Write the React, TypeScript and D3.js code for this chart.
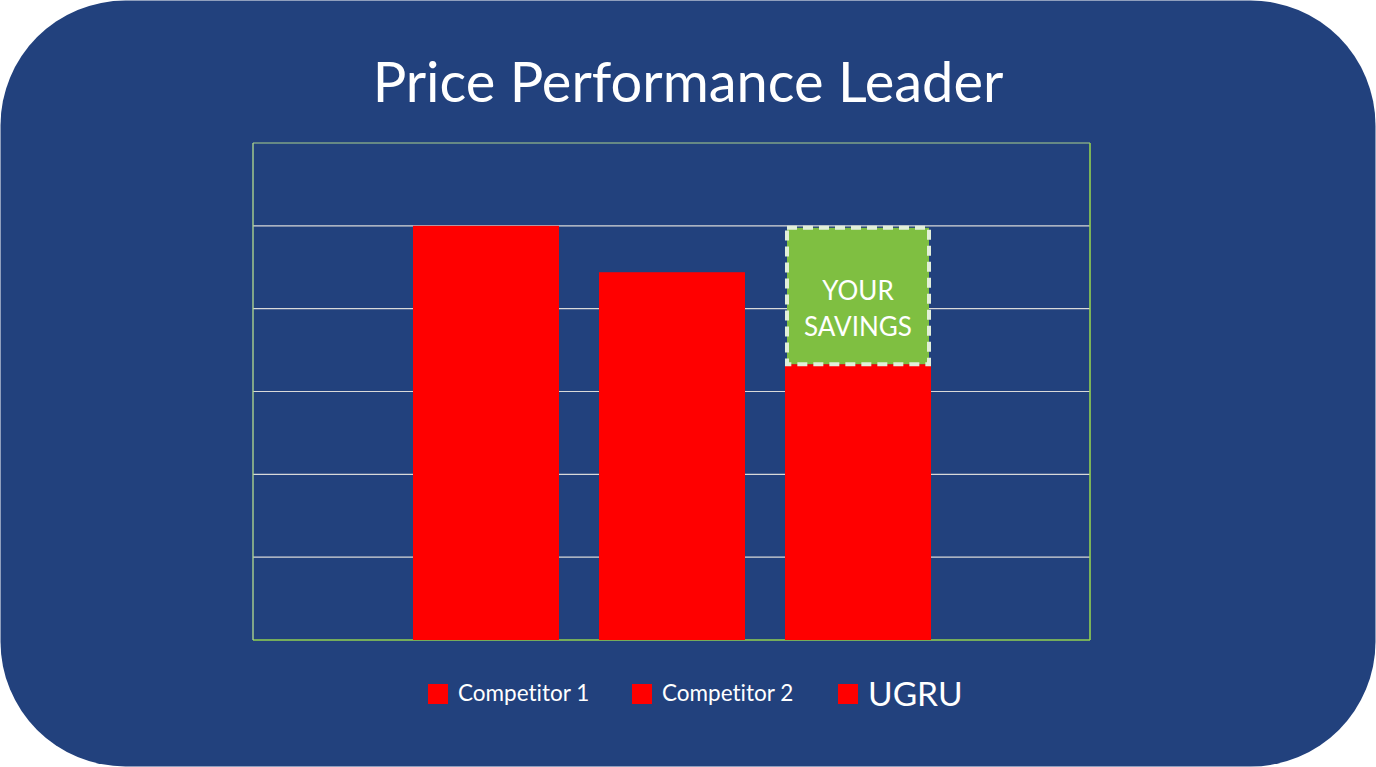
import React from "react";
import { scaleBand, scaleLinear, range } from "d3";

const series = ["Competitor 1", "Competitor 2", "UGRU"];
const values = [5.0, 4.44, 3.33];
const yMax = 6;
const gridTicks = range(0, yMax + 1);
const savingsLabel = ["YOUR", "SAVINGS"];

const W = 1376;
const H = 767;
const plot = { left: 253, right: 1090, top: 143, bottom: 640 };

const BLUE = "#22417d";
const RED = "#ff0000";
const GREEN = "#7fbf41";

export default function App() {
  const x = scaleBand<string>()
    .domain(series)
    .range([plot.left + 160, plot.right - 159])
    .paddingInner(0.215);

  const y = scaleLinear().domain([0, yMax]).range([plot.bottom, plot.top]);

  const ugru = series[2];
  const savingsTop = y(values[0]);
  const savingsBottom = y(values[2]);

  const legendItems = [
    { name: series[0], x: 428, size: 20, font: 22.5 },
    { name: series[1], x: 632, size: 20, font: 22.5 },
    { name: series[2], x: 838, size: 20, font: 33.5 },
  ];

  return (
    <svg
      width={W}
      height={H}
      style={{ position: "absolute", left: 0, top: 0, background: "#fff", fontVariantLigatures: "none" }}
      fontFamily="Lato, sans-serif"
    >
      <rect x={0.5} y={0.5} width={W - 1} height={H - 1} rx={125} ry={125} fill={BLUE} />

      <text x={688} y={102} textAnchor="middle" fill="#fff" fontSize={56}>
        Price Performance Leader
      </text>

      {/* grid lines */}
      {gridTicks.map((t) => (
        <line
          key={t}
          x1={plot.left}
          x2={plot.right}
          y1={y(t)}
          y2={y(t)}
          stroke={t === 0 ? "#92d050" : t === yMax ? "#a9d18e" : "#d9d9d9"}
          strokeWidth={t === 0 ? 1.6 : 1.2}
        />
      ))}
      <line x1={plot.left} x2={plot.left} y1={plot.top} y2={plot.bottom} stroke="#a9d18e" strokeWidth={1.4} />
      <line x1={plot.right} x2={plot.right} y1={plot.top} y2={plot.bottom} stroke="#92d050" strokeWidth={1.6} />

      {/* bars */}
      {series.map((s, i) => (
        <rect
          key={s}
          x={x(s)}
          y={y(values[i])}
          width={x.bandwidth()}
          height={plot.bottom - y(values[i])}
          fill={RED}
        />
      ))}

      {/* savings box */}
      <rect
        x={(x(ugru) ?? 0) + 2}
        y={savingsTop + 2}
        width={x.bandwidth() - 4}
        height={savingsBottom - savingsTop - 2}
        fill={GREEN}
        stroke="#e2efd9"
        strokeWidth={4}
        strokeDasharray="10 6"
      />
      {savingsLabel.map((t, i) => (
        <text
          key={t}
          x={(x(ugru) ?? 0) + x.bandwidth() / 2}
          y={savingsTop + 74 + i * 36}
          textAnchor="middle"
          fill="#fff"
          fontSize={26}
        >
          {t}
        </text>
      ))}

      {/* legend */}
      {legendItems.map((d) => (
        <g key={d.name}>
          <rect x={d.x} y={684} width={d.size} height={d.size} fill={RED} />
          <text x={d.x + 30} y={d.font > 25 ? 706 : 701} fill="#fff" fontSize={d.font}>
            {d.name}
          </text>
        </g>
      ))}
    </svg>
  );
}
